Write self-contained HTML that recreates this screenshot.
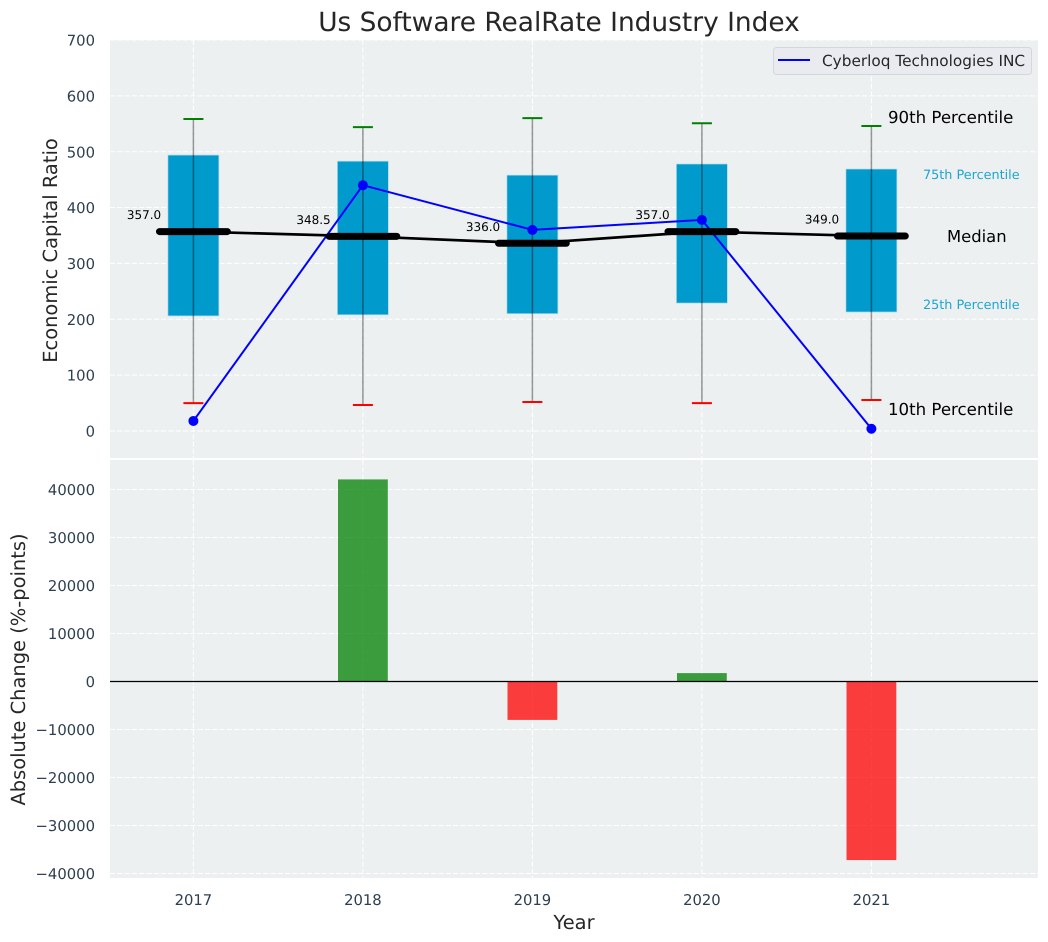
<!DOCTYPE html>
<html lang="en">
<head>
<meta charset="utf-8">
<title>Us Software RealRate Industry Index</title>
<style>
html,body{margin:0;padding:0;background:#fff;width:1048px;height:942px;overflow:hidden}
svg{display:block;font-family:"DejaVu Sans","Liberation Sans",sans-serif;text-rendering:geometricPrecision}
</style>
</head>
<body>
<svg id="chart" xmlns="http://www.w3.org/2000/svg" width="1048" height="942" viewBox="0 0 1048 942">
  <rect x="0" y="0" width="1048" height="942" fill="#ffffff"/>
  <rect x="110" y="40" width="928" height="418" fill="#ecf0f1"/>
  <rect x="110" y="460" width="928" height="418" fill="#ecf0f1"/>
  <g id="grid"></g>
  <g id="upper"></g>
  <g id="lower"></g>
  <g id="ticks"></g>
  <text x="559" y="31" font-size="26.4" fill="#262626" text-anchor="middle">Us Software RealRate Industry Index</text>
  <text transform="translate(57,250.5) rotate(-90)" font-size="19.44" fill="#262626" text-anchor="middle">Economic Capital Ratio</text>
  <text transform="translate(25,669.5) rotate(-90)" font-size="19.44" fill="#262626" text-anchor="middle">Absolute Change (%-points)</text>
  <text x="574" y="929" font-size="19.44" fill="#262626" text-anchor="middle">Year</text>
  <g>
    <text x="888" y="123" font-size="16.6" fill="#000000">90th Percentile</text>
    <text x="923" y="179" font-size="12.8" fill="#1ea5d0">75th Percentile</text>
    <text x="947" y="242" font-size="16.4" fill="#000000">Median</text>
    <text x="923" y="309" font-size="12.8" fill="#1ea5d0">25th Percentile</text>
    <text x="888" y="415" font-size="16.6" fill="#000000">10th Percentile</text>
  </g>
  <g>
    <rect x="773.5" y="47.5" width="258" height="27" rx="3" fill="#e9ebf0" stroke="#d4d7db" stroke-width="1"/>
    <line x1="778" y1="60" x2="810" y2="60" stroke="#0000ff" stroke-width="2"/>
    <text x="822" y="66" font-size="15.3" fill="#262626">Cyberloq Technologies INC</text>
  </g>
</svg>
<script>
const years = [2017, 2018, 2019, 2020, 2021];
const p90 = [558.5, 544, 560, 551, 546];
const q3 = [494, 483, 458, 478, 469];
const medianValues = [357.0, 348.5, 336.0, 357.0, 349.0];
const q1 = [206, 208, 210, 229, 213];
const p10 = [50, 46.5, 52, 50, 55.5];
const companyValues = [18, 440, 360, 378, 4];
const changeValues = [0, 42100, -8000, 1750, -37200];
const upperTicks = [0, 100, 200, 300, 400, 500, 600, 700];
const lowerTicks = [-40000, -30000, -20000, -10000, 0, 10000, 20000, 30000, 40000];

const NS = 'http://www.w3.org/2000/svg';
const xScale = v => 193.4 + (v - 2017) * 169.5;
const yUpper = v => 431 - v * 0.5586;
const yLower = v => 681.5 - v * 0.0048;
const gridG = document.getElementById('grid');
const upperG = document.getElementById('upper');
const lowerG = document.getElementById('lower');
const ticksG = document.getElementById('ticks');

function make(tag, attrs, parent, content) {
  const el = document.createElementNS(NS, tag);
  for (const k in attrs) el.setAttribute(k, attrs[k]);
  if (content !== undefined) el.textContent = content;
  parent.appendChild(el);
  return el;
}
const gridStyle = {stroke: '#ffffff', 'stroke-width': 1, 'stroke-dasharray': '5.1 2.2', fill: 'none'};
const fmtTick = v => (v < 0 ? '\u2212' + Math.abs(v) : String(v));

upperTicks.forEach(t => {
  const y = yUpper(t);
  const el = make('line', Object.assign({x1: 110, x2: 1038, y1: y, y2: y}, gridStyle), gridG);
  
  
  const lb = make('text', {x: 95, y: y + 5.6, 'font-size': 14.8, fill: '#2c3e50', 'text-anchor': 'end'}, ticksG, fmtTick(t));
  
  
});
lowerTicks.forEach(t => {
  const y = yLower(t);
  const el = make('line', Object.assign({x1: 110, x2: 1038, y1: y, y2: y}, gridStyle), gridG);
  
  
  const lb = make('text', {x: 95, y: y + 5.6, 'font-size': 14.8, fill: '#2c3e50', 'text-anchor': 'end'}, ticksG, fmtTick(t));
  
  
});
years.forEach(yr => {
  const x = xScale(yr);
  const a = make('line', Object.assign({x1: x, x2: x, y1: 40, y2: 458}, gridStyle), gridG);
  
  
  const b = make('line', Object.assign({x1: x, x2: x, y1: 460, y2: 878}, gridStyle), gridG);
  
  
  const lb = make('text', {x: x, y: 905, 'font-size': 14.8, fill: '#2c3e50', 'text-anchor': 'middle'}, ticksG, String(yr));
  
  
});

/* Upper panel */
years.forEach((yr, i) => {
  const x = xScale(yr);
  const box = make('rect', {x: x - 25.5, width: 51, y: yUpper(q3[i]), height: yUpper(q1[i]) - yUpper(q3[i]), fill: '#019acc', stroke: '#b5dcea', 'stroke-width': 0.7}, upperG);
  
  
  const w = make('line', {x1: x, x2: x, y1: yUpper(p90[i]), y2: yUpper(p10[i]), stroke: '#000000', 'stroke-opacity': 0.4, 'stroke-width': 1.5}, upperG);
  
  
  const hi = make('line', {x1: x - 10, x2: x + 10, y1: yUpper(p90[i]), y2: yUpper(p90[i]), stroke: '#008000', 'stroke-width': 2}, upperG);
  
  
  const lo = make('line', {x1: x - 10, x2: x + 10, y1: yUpper(p10[i]), y2: yUpper(p10[i]), stroke: '#ff0000', 'stroke-width': 2}, upperG);
  
  
});
const medianLine = make('polyline', {points: years.map((yr, i) => xScale(yr) + ',' + yUpper(medianValues[i])).join(' '), fill: 'none', stroke: '#000000', 'stroke-width': 2.7}, upperG);


const companyLine = make('polyline', {points: years.map((yr, i) => xScale(yr) + ',' + yUpper(companyValues[i])).join(' '), fill: 'none', stroke: '#0000ff', 'stroke-width': 2}, upperG);


years.forEach((yr, i) => {
  const pt = make('circle', {cx: xScale(yr), cy: yUpper(companyValues[i]), r: 5, fill: '#0000ff'}, upperG);
  
  
  const m = make('line', {x1: xScale(yr) - 33.9, x2: xScale(yr) + 33.9, y1: yUpper(medianValues[i]), y2: yUpper(medianValues[i]), stroke: '#000000', 'stroke-width': 7, 'stroke-linecap': 'round'}, upperG);
  
  
  const t = make('text', {x: xScale(yr) - 49.4, y: yUpper(medianValues[i]) - 12.4, 'font-size': 12, fill: '#000000', 'text-anchor': 'middle'}, upperG, medianValues[i].toFixed(1));
  
  
});

/* Lower panel */
years.forEach((yr, i) => {
  const v = changeValues[i];
  if (!v) return;
  const top = Math.min(yLower(v), yLower(0));
  const h = Math.abs(yLower(v) - yLower(0));
  const bar = make('rect', {x: xScale(yr) - 24.9, width: 49.8, y: top, height: h, fill: v > 0 ? '#008000' : '#ff0000', 'fill-opacity': 0.75}, lowerG);
  
  
});
const zeroLine = make('line', {x1: 110, x2: 1038, y1: yLower(0), y2: yLower(0), stroke: '#000000', 'stroke-width': 1.2}, lowerG);


</script>
</body>
</html>
